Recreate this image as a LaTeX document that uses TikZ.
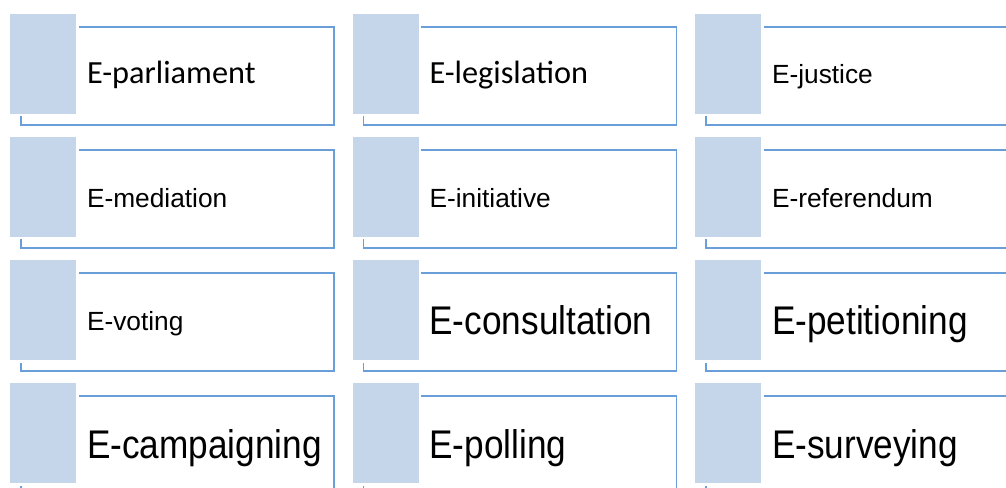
\documentclass[tikz,border=0pt]{standalone}
\usepackage{fontspec}
\usepackage{graphicx}
\setmainfont{Liberation Sans}
\newfontfamily\calibrifont{Carlito}
\definecolor{sqfill}{RGB}{197,213,234}
\definecolor{edgeblue}{RGB}{105,158,216}
\newcommand{\bigtxt}[1]{\scalebox{0.88}[1]{#1}}
\begin{document}
\begin{tikzpicture}[x=1bp,y=-1bp,
  sqbox/.style={fill=sqfill,draw=white,line width=2.5bp,minimum width=68.5bp,minimum height=102.5bp,inner sep=0pt,outer sep=0pt,anchor=north west},
  framebox/.style={draw=edgeblue,line width=1.4bp,fill=white,minimum width=313bp,minimum height=98bp,inner sep=0pt,outer sep=0pt,anchor=north west},
  lbl/.style={anchor=base west,inner sep=0pt,outer sep=0pt,text=black},
  txtcal/.style={font=\calibrifont\fontsize{32.3bp}{32.3bp}\selectfont},
  txtsma/.style={font=\fontsize{26.3bp}{26.3bp}\selectfont},
  txtbig/.style={font=\fontsize{40bp}{40bp}\selectfont}]
\useasboundingbox (0,0) rectangle (1006,488);
\fill[white] (0,0) rectangle (1006,488);
\clip (0,0) rectangle (1006,488);
\foreach \c in {0,1,2}{
  \foreach \r in {0,1,2,3}{
    \pgfmathsetmacro\xo{10+342.5*\c}
    \pgfmathsetmacro\yo{14+123*\r}
    \coordinate (o\c\r) at (\xo,\yo);
    \node[framebox] (f\c\r) at (\xo+11,\yo+13) {};
    \node[sqbox] (s\c\r) at (\xo-1.25,\yo-1.25) {};
  }
}
\node[lbl,txtcal] (t00) at ([shift={(77,70)}]o00) {E-parliament};
\node[lbl,txtcal] (t10) at ([shift={(77,70)}]o10) {E-legislation};
\node[lbl,txtsma] (t20) at ([shift={(77,70)}]o20) {E-justice};
\node[lbl,txtsma] (t01) at ([shift={(77,71)}]o01) {E-mediation};
\node[lbl,txtsma] (t11) at ([shift={(77,71)}]o11) {E-initiative};
\node[lbl,txtsma] (t21) at ([shift={(77,71)}]o21) {E-referendum};
\node[lbl,txtsma] (t02) at ([shift={(77,71)}]o02) {E-voting};
\node[lbl,txtbig] (t12) at ([shift={(77,75)}]o12) {\bigtxt{E-consultation}};
\node[lbl,txtbig] (t22) at ([shift={(77,75)}]o22) {\bigtxt{E-petitioning}};
\node[lbl,txtbig] (t03) at ([shift={(77,75)}]o03) {\bigtxt{E-campaigning}};
\node[lbl,txtbig] (t13) at ([shift={(77,75)}]o13) {\bigtxt{E-polling}};
\node[lbl,txtbig] (t23) at ([shift={(77,75)}]o23) {\bigtxt{E-surveying}};
\end{tikzpicture}
\end{document}
